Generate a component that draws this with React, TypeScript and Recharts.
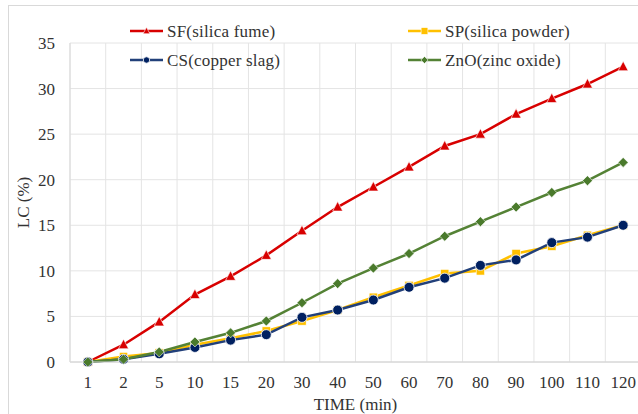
import React from 'react';
import { LineChart, Line, XAxis, YAxis, CartesianGrid } from 'recharts';

const categories = ['1', '2', '5', '10', '15', '20', '30', '40', '50', '60', '70', '80', '90', '100', '110', '120'];
const sfValues = [0, 1.9, 4.4, 7.4, 9.4, 11.7, 14.4, 17.0, 19.2, 21.4, 23.7, 25.0, 27.2, 28.9, 30.5, 32.4];
const spValues = [0, 0.6, 1.0, 1.9, 2.6, 3.4, 4.5, 5.7, 7.1, 8.4, 9.7, 10.0, 11.9, 12.7, 13.9, 15.0];
const csValues = [0, 0.3, 0.9, 1.6, 2.4, 3.0, 4.9, 5.7, 6.8, 8.2, 9.2, 10.6, 11.2, 13.1, 13.7, 15.0];
const znoValues = [0, 0.3, 1.1, 2.2, 3.2, 4.5, 6.5, 8.6, 10.3, 11.9, 13.8, 15.4, 17.0, 18.6, 19.9, 21.9];
const yTicks = [0, 5, 10, 15, 20, 25, 30, 35];

const data = categories.map((c, i) => ({
  time: c,
  sf: sfValues[i],
  sp: spValues[i],
  cs: csValues[i],
  zno: znoValues[i],
}));

const FONT = '"Liberation Serif", "Times New Roman", serif';
const TEXT = '#333333';
const RED = '#D80000';
const YELLOW = '#FFC000';
const NAVY_LINE = '#22407A';
const NAVY = '#002060';
const GREEN_LINE = '#548235';
const GREEN = '#4A7A2C';

const Tri = (s: number, color: string) => (props: any) => {
  const { cx, cy } = props;
  if (cx == null || cy == null) return null;
  return (
    <polygon
      key={props.key}
      points={`${cx},${cy - s * 1.1} ${cx - s},${cy + s * 0.8} ${cx + s},${cy + s * 0.8}`}
      fill={color}
      stroke="#fff"
      strokeWidth={0.6}
    />
  );
};
const Sq = (s: number, color: string) => (props: any) => {
  const { cx, cy } = props;
  if (cx == null || cy == null) return null;
  return <rect key={props.key} x={cx - s} y={cy - s} width={2 * s} height={2 * s} fill={color} stroke="#fff" strokeWidth={0.6} />;
};
const Circ = (s: number, color: string) => (props: any) => {
  const { cx, cy } = props;
  if (cx == null || cy == null) return null;
  return <circle key={props.key} cx={cx} cy={cy} r={s} fill={color} stroke="#fff" strokeWidth={0.8} />;
};
const Dia = (s: number, color: string) => (props: any) => {
  const { cx, cy } = props;
  if (cx == null || cy == null) return null;
  return (
    <polygon
      key={props.key}
      points={`${cx},${cy - s} ${cx + s},${cy} ${cx},${cy + s} ${cx - s},${cy}`}
      fill={color}
      stroke="#fff"
      strokeWidth={0.6}
    />
  );
};

const legendItems = [
  { name: 'SF(silica fume)', color: RED, marker: Tri(3.4, RED), col: 0, row: 0 },
  { name: 'SP(silica powder)', color: YELLOW, marker: Sq(3.4, YELLOW), col: 1, row: 0 },
  { name: 'CS(copper slag)', color: NAVY_LINE, marker: Circ(3.2, NAVY), col: 0, row: 1 },
  { name: 'ZnO(zinc oxide)', color: GREEN_LINE, marker: Dia(3.6, GREEN), col: 1, row: 1 },
];

const LegendOverlay = () => {
  const colX = [130, 408];
  const rowY = [31, 60];
  return (
    <svg width={638} height={80} style={{ position: 'absolute', left: 0, top: 0, overflow: 'visible' }}>
      {legendItems.map((it) => {
        const x = colX[it.col];
        const y = rowY[it.row];
        const M = it.marker;
        return (
          <g key={it.name}>
            <line x1={x} y1={y} x2={x + 33} y2={y} stroke={it.color} strokeWidth={2.5} />
            <M cx={x + 16.5} cy={y} />
            <text x={x + 37} y={y} dy="0.35em" fontSize={17} letterSpacing={0.2} fontFamily={FONT} fill={TEXT}>
              {it.name}
            </text>
          </g>
        );
      })}
    </svg>
  );
};

const gridVertical = (props: any) => {
  const { offset } = props;
  const n = categories.length;
  const out: number[] = [];
  for (let i = 0; i <= n; i++) out.push(offset.left + (i * offset.width) / n);
  return out;
};

export default function App() {
  return (
    <div style={{ position: 'fixed', left: 0, top: 0, width: 638, height: 414, overflow: 'hidden', background: '#fff', fontFamily: FONT }}>
      <div
        style={{
          position: 'absolute',
          left: 8,
          top: 5,
          width: 700,
          height: 500,
          border: '1px solid #d9d9d9',
          boxSizing: 'border-box',
        }}
      />
      <div style={{ position: 'absolute', left: 0, top: 0 }}>
        <LineChart
          width={660}
          height={414}
          data={data}
          margin={{ top: 43, right: 19, left: 0, bottom: 22 }}
          style={{ fontFamily: FONT }}
        >
          <CartesianGrid stroke="#e4e4e4" strokeWidth={1} verticalCoordinatesGenerator={gridVertical} />
          <XAxis
            dataKey="time"
            scale="band"
            height={30}
            tickLine={false}
            tickSize={0}
            tickMargin={14}
            axisLine={{ stroke: '#d0d0d0' }}
            tick={{ fontSize: 17, fill: TEXT, fontFamily: FONT }}
            interval={0}
            label={(p: any) => {
              const vb = p.viewBox;
              return (
                <text x={vb.x + vb.width / 2} y={404} dy="0.35em" textAnchor="middle" fontSize={17} fontFamily={FONT} fill={TEXT}>
                  TIME (min)
                </text>
              );
            }}
          />
          <YAxis
            width={70}
            domain={[0, 35]}
            ticks={yTicks}
            tickLine={false}
            tickSize={0}
            tickMargin={15}
            axisLine={{ stroke: '#d9d9d9' }}
            tick={{ fontSize: 17, fill: TEXT, fontFamily: FONT }}
            label={(p: any) => {
              const vb = p.viewBox;
              const cy = vb.y + vb.height / 2;
              return (
                <text
                  x={23}
                  y={cy}
                  dy="0.35em"
                  textAnchor="middle"
                  transform={`rotate(-90, 23, ${cy})`}
                  fontSize={17}
                  fontFamily={FONT}
                  fill={TEXT}
                >
                  LC (%)
                </text>
              );
            }}
          />
          <Line dataKey="sf" name="SF(silica fume)" stroke={RED} strokeWidth={2.5} dot={Tri(5, RED)} isAnimationActive={false} />
          <Line dataKey="sp" name="SP(silica powder)" stroke={YELLOW} strokeWidth={2.5} dot={Sq(4.2, YELLOW)} isAnimationActive={false} />
          <Line dataKey="cs" name="CS(copper slag)" stroke={NAVY_LINE} strokeWidth={2.5} dot={Circ(5, NAVY)} isAnimationActive={false} />
          <Line dataKey="zno" name="ZnO(zinc oxide)" stroke={GREEN_LINE} strokeWidth={2.5} dot={Dia(5, GREEN)} isAnimationActive={false} />
        </LineChart>
      </div>
      <LegendOverlay />
    </div>
  );
}
